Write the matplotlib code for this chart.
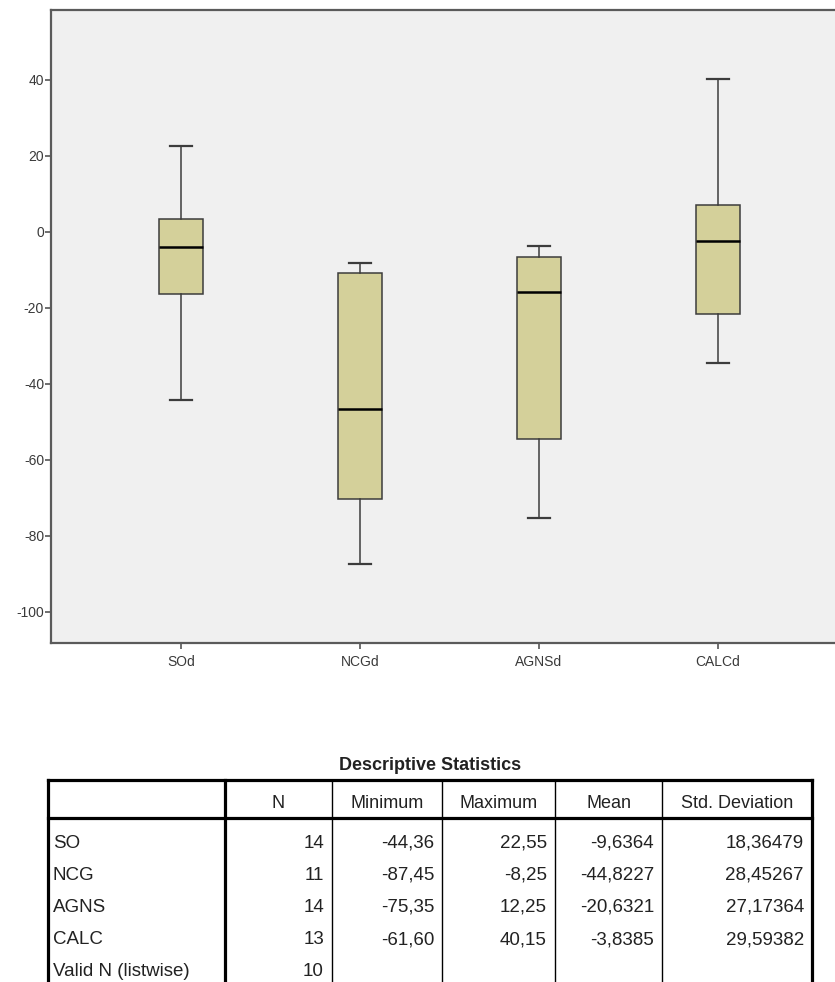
import matplotlib
matplotlib.use('Agg')
import matplotlib.pyplot as plt

plt.rcParams['font.family'] = ['Liberation Sans Narrow', 'Liberation Sans', 'DejaVu Sans']

# boxplot data
groups = ['SOd', 'NCGd', 'AGNSd', 'CALCd']
whisk_lo = [-44.36, -87.45, -75.35, -34.6]
q1 = [-16.3, -70.3, -54.4, -21.5]
medians = [-3.9, -46.7, -15.7, -2.5]
q3 = [3.3, -10.7, -6.5, 7.2]
whisk_hi = [22.55, -8.25, -3.8, 40.15]
yticks = [-100, -80, -60, -40, -20, 0, 20, 40]

# descriptive statistics table
tbl_title = 'Descriptive Statistics'
col_names = ['', 'N', 'Minimum', 'Maximum', 'Mean', 'Std. Deviation']
row_names = ['SO', 'NCG', 'AGNS', 'CALC', 'Valid N (listwise)']
n_vals = ['14', '11', '14', '13', '10']
min_vals = ['-44,36', '-87,45', '-75,35', '-61,60', '']
max_vals = ['22,55', '-8,25', '12,25', '40,15', '']
mean_vals = ['-9,6364', '-44,8227', '-20,6321', '-3,8385', '']
std_vals = ['18,36479', '28,45267', '27,17364', '29,59382', '']

W, H = 835, 982
fig = plt.figure(figsize=(W / 100, H / 100), dpi=100)
fig.patch.set_facecolor('white')

# ---- boxplot ----
ax = fig.add_axes([51 / W, 1 - 643 / H, 1.0 - 51 / W + 0.01, (643 - 10) / H])
ax.set_facecolor('#F0F0F0')
stats = []
for i in range(len(groups)):
    stats.append({'label': groups[i], 'whislo': whisk_lo[i], 'q1': q1[i],
                  'med': medians[i], 'q3': q3[i], 'whishi': whisk_hi[i]})
edge = '#3C3C3C'
ax.bxp(stats, positions=range(len(groups)), widths=0.25, capwidths=0.125,
       showfliers=False, patch_artist=True,
       boxprops=dict(facecolor='#D4D09A', edgecolor=edge, linewidth=1.1),
       whiskerprops=dict(color=edge, linewidth=1.1),
       capprops=dict(color=edge, linewidth=1.6),
       medianprops=dict(color='black', linewidth=1.8))
ax.set_xlim(-0.726, 3.70)
ax.set_ylim(-108.2, 58.4)
ax.set_yticks(yticks)
ax.set_yticklabels([str(t) for t in yticks])
ax.set_xticks(range(len(groups)))
ax.set_xticklabels(groups)
for s in ax.spines.values():
    s.set_color('#5A5A5A')
    s.set_linewidth(1.6)
ax.spines['right'].set_visible(False)
ax.tick_params(axis='both', colors='#555555', labelcolor='#3A3A3A', length=4,
               width=1.2, labelsize=10)
ax.tick_params(axis='x', pad=5)
ax.tick_params(axis='y', pad=1)

# ---- table (pixel coordinates) ----
tx = fig.add_axes([0, 0, 1, 1])
tx.set_xlim(0, W)
tx.set_ylim(H, 0)
tx.axis('off')

col_x = [48, 225, 332, 442, 555, 662, 812]
top, head_bot, bottom = 780, 818, 990
tx.text(430, 766, tbl_title, ha='center', va='center', fontsize=13,
        fontweight='bold', color='#222222')

thick, thin = 2.3, 1.0
tx.plot([col_x[0], col_x[-1]], [top, top], color='black', lw=thick)
tx.plot([col_x[0], col_x[-1]], [head_bot, head_bot], color='black', lw=thick)
for j, x in enumerate(col_x):
    lw = thick if j in (0, 1, len(col_x) - 1) else thin
    tx.plot([x, x], [top, bottom], color='black', lw=lw)

for j, name in enumerate(col_names):
    if name:
        tx.text((col_x[j] + col_x[j + 1]) / 2, 804, name, ha='center',
                va='center', fontsize=13, color='#222222')

columns = [n_vals, min_vals, max_vals, mean_vals, std_vals]
for i, rn in enumerate(row_names):
    y = 843 + i * 32.2
    tx.text(53, y, rn, ha='left', va='center', fontsize=13.5, color='#222222')
    for j, col in enumerate(columns):
        tx.text(col_x[j + 2] - 8, y, col[i], ha='right', va='center',
                fontsize=13.5, color='#222222')

fig.savefig('out.png', dpi=100)
